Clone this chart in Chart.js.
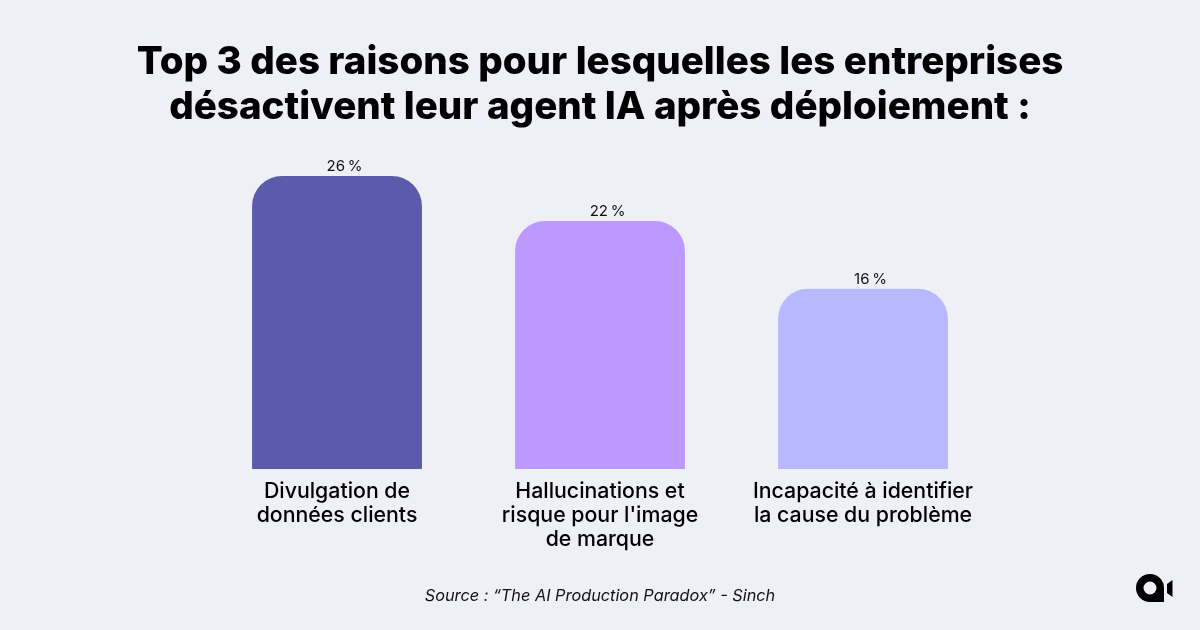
<!DOCTYPE html>
<html lang="fr">
<head>
<meta charset="utf-8">
<title>Top 3 des raisons</title>
<script src="https://cdn.jsdelivr.net/npm/chart.js@4"></script>
<style>
    html, body { margin: 0; padding: 0; background: #eef0f6; }
    #wrap { position: relative; width: 1200px; height: 630px; overflow: hidden; font-family: Inter, sans-serif; color: #000; }
    #chart { position: absolute; left: 0; top: 0; }
    h1 { position: absolute; left: 0; top: 38px; width: 1200px; margin: 0; text-align: center; font-size: 38.5px; line-height: 45px; font-weight: 800; }
    #source { position: absolute; left: 0; top: 585px; width: 1200px; text-align: center; font-size: 16.3px; line-height: 20px; font-style: italic; color: #111; }
    #logo { position: absolute; left: 1134px; top: 572px; }
</style>
</head>
<body>
<div id="wrap">
    <canvas id="chart" width="1200" height="630"></canvas>
    <h1>Top 3 des raisons pour lesquelles les entreprises<br>désactivent leur agent IA après déploiement :</h1>
    <div id="source">Source : “The AI Production Paradox” - Sinch</div>
    <svg id="logo" width="42" height="34" viewBox="0 0 42 34">
        <path d="M16 2 A14 14 0 1 0 16 30 L30 30 L30 16 A14 14 0 0 0 16 2 Z M16 9.5 A6.5 6.5 0 1 1 16 22.5 A6.5 6.5 0 0 1 16 9.5 Z" fill="#000" fill-rule="evenodd"/>
        <path d="M38.5 8 L38.5 25 L33 21 L33 12 Z" fill="#000"/>
    </svg>
</div>
<script>
const categories = [
    ['Divulgation de', 'données clients'],
    ['Hallucinations et', "risque pour l'image", 'de marque'],
    ['Incapacité à identifier', 'la cause du problème']
];
const values = [26, 22, 16];
const barColors = ['#5a5cab', '#bb99ff', '#b8b8ff'];

// Draws "26 %" above each bar, the reference has them a bit right of centre
const valueLabels = {
    id: 'valueLabels',
    afterDatasetsDraw(chart) {
        const ctx = chart.ctx;
        ctx.save();
        ctx.font = '15px Inter, sans-serif';
        ctx.fillStyle = '#111';
        ctx.textAlign = 'center';
        ctx.textBaseline = 'alphabetic';
        chart.getDatasetMeta(0).data.forEach((bar, i) => {
            ctx.fillText(values[i] + '\u202F%', bar.x + 7.5, bar.y - 5);
        });
        ctx.restore();
    }
};

new Chart(document.getElementById('chart'), {
    type: 'bar',
    data: {
        labels: categories,
        datasets: [{
            data: values,
            backgroundColor: barColors,
            borderRadius: { topLeft: 30, topRight: 30, bottomLeft: 0, bottomRight: 0 },
            borderSkipped: false,
            categoryPercentage: 1,
            barPercentage: 0.646
        }]
    },
    options: {
        responsive: false,
        animation: false,
        layout: { padding: { top: 176, left: 205.5, right: 205.5, bottom: 0 } },
        plugins: {
            legend: { display: false },
            tooltip: { enabled: false }
        },
        scales: {
            x: {
                grid: { display: false },
                border: { display: false },
                afterFit: scale => { scale.height = 161; },
                ticks: {
                    color: '#000',
                    padding: 3,
                    maxRotation: 0,
                    autoSkip: false,
                    font: { family: 'Inter, sans-serif', size: 21.3, weight: '500', lineHeight: '24px' }
                }
            },
            y: { display: false, min: 0, max: 26 }
        }
    },
    plugins: [valueLabels]
});
</script>
</body>
</html>
